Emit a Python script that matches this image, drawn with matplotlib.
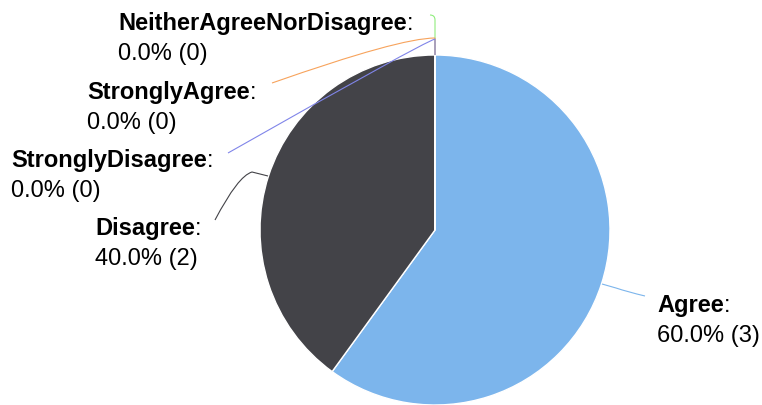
import matplotlib.pyplot as plt
from matplotlib.path import Path
from matplotlib.patches import PathPatch

# data
labels = ['Agree', 'Disagree', 'NeitherAgreeNorDisagree', 'StronglyAgree', 'StronglyDisagree']
counts = [3, 2, 0, 0, 0]
colors = ['#7cb5ec', '#434348', '#90ed7d', '#f7a35c', '#8085e9']

W, H = 762, 405
FS = 17
plt.rcParams['font.family'] = ['Liberation Sans', 'DejaVu Sans']

fig = plt.figure(figsize=(W / 100, H / 100), dpi=100)
ax = fig.add_axes([0, 0, 1, 1])

def Y(py):
    # pixel row (from top) -> data y
    return H - py

# pie, centre (435, 230) px, radius 175 px
ax.pie(counts, colors=colors, startangle=90, counterclock=False,
       center=(435, Y(230)), radius=175, frame=True,
       wedgeprops=dict(edgecolor='white', linewidth=1))
ax.set_xlim(0, W)
ax.set_ylim(0, H)
ax.set_aspect('auto')
ax.axis('off')

# connectors (pixel coords), one per label
conn = {
    'NeitherAgreeNorDisagree': [(435, 55), (435, 20), (435, 15), (430, 15)],
    'StronglyAgree': [(435, 55), (435, 38), (400, 38), (272, 83)],
    'StronglyDisagree': [(435, 55), (435, 39), (420, 44), (228, 153)],
    'Disagree': [(268, 176), (252, 172), (238, 176), (215, 220)],
    'Agree': [(602, 284), (616, 288), (628, 292), (645, 296)],
}
for name in ['NeitherAgreeNorDisagree', 'StronglyAgree', 'StronglyDisagree', 'Disagree', 'Agree']:
    pts = [(x, Y(y)) for x, y in conn[name]]
    codes = [Path.MOVETO, Path.LINETO, Path.CURVE3, Path.CURVE3]
    ax.add_patch(PathPatch(Path(pts, codes), fill=False,
                           edgecolor=colors[labels.index(name)], linewidth=0.8))

# label positions: left x, baseline of first line (px)
label_pos = {
    'NeitherAgreeNorDisagree': (118, 30),
    'StronglyAgree': (87, 99),
    'StronglyDisagree': (11, 167),
    'Disagree': (95, 235),
    'Agree': (657, 312),
}
total = sum(counts)
renderer = fig.canvas.get_renderer()
for name, n in zip(labels, counts):
    x, y = label_pos[name]
    t = ax.text(x, Y(y), name, fontsize=FS, fontweight='bold',
                ha='left', va='baseline', color='black')
    w = t.get_window_extent(renderer).width
    ax.text(x + w, Y(y), ':', fontsize=FS, ha='left', va='baseline', color='black')
    ax.text(x, Y(y + 30), f'{100 * n / total:.1f}% ({n})', fontsize=FS,
            ha='left', va='baseline', color='black')

fig.savefig('out.png', dpi=100)
